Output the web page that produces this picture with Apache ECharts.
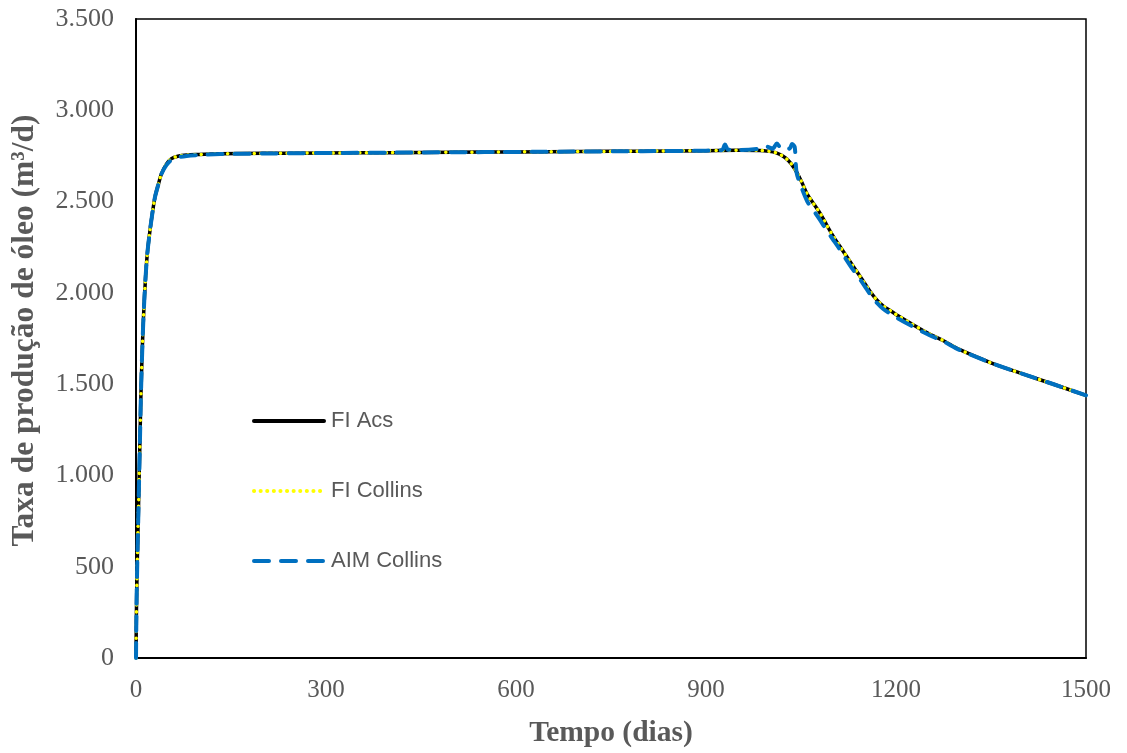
<!DOCTYPE html>
<html>
<head>
<meta charset="utf-8">
<script src="https://cdn.jsdelivr.net/npm/echarts@6/dist/echarts.min.js"></script>
<style>
html,body{margin:0;padding:0;background:#fff;}
#chart{width:1127px;height:753px;}
</style>
</head>
<body>
<div id="chart"></div>
<script>
// ---- Data ----
const seriesNames = ['FI Acs', 'FI Collins', 'AIM Collins'];
const xTicks = [0, 300, 600, 900, 1200, 1500];
const yTicks = [0, 500, 1000, 1500, 2000, 2500, 3000, 3500];

const fiDays = [0,0.5,1,2,3,4,5,6,7,8,10,12,15,18,22,26,30,35,40,48,56,66,80,100,133,200,300,400,500,600,700,800,900,950,985,1000,1010,1020,1030,1040,1050,1060,1070,1080,1090,1100,1110,1120,1130,1140,1150,1160,1170,1180,1190,1200,1225,1250,1275,1300,1350,1400,1450,1500];
const fiAcs = [0,200,330,520,680,830,1000,1150,1320,1470,1700,1880,2080,2220,2340,2440,2525,2590,2650,2705,2735,2748,2755,2758,2762,2764,2766,2768,2770,2772,2774,2776,2779,2781,2780,2775,2768,2752,2725,2680,2615,2540,2488,2437,2375,2315,2262,2210,2158,2107,2055,2003,1960,1928,1905,1882,1830,1780,1738,1690,1617,1556,1498,1438];
const fiCollins = [0,200,330,520,680,830,1000,1150,1320,1470,1700,1880,2080,2220,2340,2440,2525,2590,2650,2705,2735,2748,2755,2758,2762,2764,2766,2768,2770,2772,2774,2776,2779,2781,2780,2775,2768,2752,2725,2680,2615,2540,2488,2437,2375,2315,2262,2210,2158,2107,2055,2003,1960,1928,1905,1882,1830,1780,1738,1690,1617,1556,1498,1438];

const aimDays = [0,0.5,1,2,3,4,5,6,7,8,10,12,15,18,22,26,30,35,40,48,56,66,80,100,133,200,300,400,500,600,700,800,900,925,930,935,950,985,995,1005,1012,1018,1025,1032,1036,1040,1043,1050,1060,1070,1080,1090,1100,1110,1120,1130,1140,1150,1160,1170,1180,1190,1200,1225,1250,1275,1300,1350,1400,1450,1500];
const aimCollins = [0,200,330,520,680,830,1000,1150,1320,1470,1700,1880,2080,2220,2340,2440,2525,2590,2650,2700,2728,2742,2750,2755,2760,2763,2766,2768,2770,2772,2774,2776,2779,2782,2812,2784,2782,2790,2802,2790,2818,2795,2805,2790,2815,2800,2660,2585,2500,2450,2400,2345,2295,2245,2190,2137,2090,2040,1988,1945,1912,1888,1866,1818,1773,1734,1688,1617,1556,1498,1438];

function pairs(xs, ys){ return xs.map((x,i)=>[x, ys[i]]); }
function fmtThousands(v){ return String(v).replace(/\B(?=(\d{3})+(?!\d))/g, '.'); }

const chart = echarts.init(document.getElementById('chart'), null, {renderer:'canvas'});
const grey = '#595959';
const option = {
  backgroundColor: '#ffffff',
  animation: false,
  grid: {left:136, right:41, top:19, bottom:94, show:true, borderColor:'#000', borderWidth:1.5},
  legend: {
    orient:'vertical', left:247, top:405, itemWidth:70, itemHeight:14, itemGap:48,
    data: seriesNames,
    itemStyle:{opacity:0, borderWidth:0},
    lineStyle:{width:4, cap:'round'},
    textStyle:{fontFamily:'Liberation Sans, Arial', fontSize:22, color:grey, padding:[0,0,0,2]}
  },
  xAxis: {
    type:'value', min:xTicks[0], max:xTicks[xTicks.length-1], interval:300,
    name:'Tempo (dias)', nameLocation:'middle', nameGap:60,
    nameTextStyle:{fontFamily:'Liberation Serif, Times New Roman', fontSize:29.5, fontWeight:'bold', color:grey},
    axisLine:{lineStyle:{color:'#000', width:2}},
    axisTick:{show:false}, splitLine:{show:false},
    axisLabel:{fontFamily:'Liberation Serif, Times New Roman', fontSize:25, color:grey, margin:20, formatter:v=>String(v)}
  },
  yAxis: {
    type:'value', min:yTicks[0], max:yTicks[yTicks.length-1], interval:500,
    name:'Taxa de produção de óleo (m³/d)', nameLocation:'middle', nameGap:95, nameRotate:90,
    nameTextStyle:{fontFamily:'Liberation Serif, Times New Roman', fontSize:31.5, fontWeight:'bold', color:grey, padding:[0,0,0,16]},
    axisLine:{show:true, lineStyle:{color:'#000', width:2}},
    axisTick:{show:false}, splitLine:{show:false},
    axisLabel:{fontFamily:'Liberation Serif, Times New Roman', fontSize:26, color:grey, margin:22, formatter:fmtThousands}
  },
  series: [
    {name:seriesNames[0], type:'line', data:pairs(fiDays, fiAcs), symbol:'none', smooth:0.3, z:2,
     lineStyle:{color:'#000000', width:3.5}, itemStyle:{color:'#000000'}},
    {name:seriesNames[1], type:'line', data:pairs(fiDays, fiCollins), symbol:'none', smooth:0.3, z:3,
     lineStyle:{color:'#FFFF00', width:3.5, type:[0.1,6.5], cap:'round'}, itemStyle:{color:'#FFFF00'}},
    {name:seriesNames[2], type:'line', data:pairs(aimDays, aimCollins), symbol:'none', smooth:0.3, z:4,
     lineStyle:{color:'#0070C0', width:4, type:[15,12], cap:'round'}, itemStyle:{color:'#0070C0'}}
  ]
};
chart.setOption(option);
</script>
</body>
</html>
